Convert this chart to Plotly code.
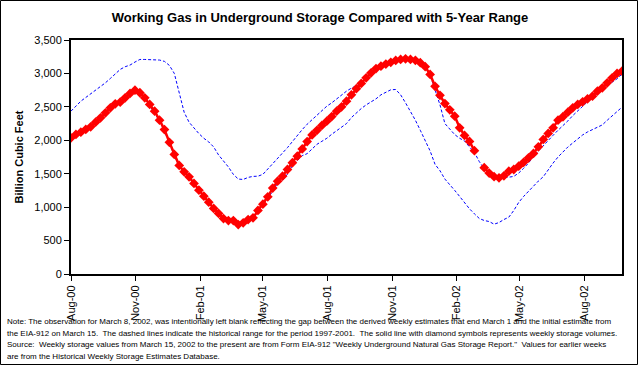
import plotly.graph_objects as go
import pandas as pd

# Weekly report dates (Fridays) from 4 Aug 2000 to 27 Sep 2002
week_dates = pd.date_range("2000-08-04", periods=114, freq="7D")

# Weekly working gas in storage (Bcf); 8 Mar 2002 intentionally blank
storage = [2037, 2087, 2122, 2162, 2202, 2271, 2336, 2411, 2486, 2546,
           2570, 2636, 2700, 2750, 2711, 2636, 2536, 2436, 2301, 2160,
           1970, 1788, 1623, 1529, 1454, 1354, 1254, 1164, 1074, 980,
           905, 830, 800, 800, 740, 766, 815, 840, 950, 1045,
           1155, 1285, 1389, 1463, 1563, 1664, 1762, 1870, 1980, 2080,
           2150, 2222, 2286, 2355, 2436, 2500, 2585, 2680, 2772, 2850,
           2935, 3010, 3072, 3109, 3140, 3167, 3194, 3209, 3219, 3209,
           3197, 3160, 3100, 2985, 2808, 2672, 2550, 2455, 2361, 2187,
           2072, 1982, 1845, None, 1590, 1509, 1455, 1439, 1468, 1538,
           1563, 1613, 1670, 1738, 1803, 1903, 2012, 2102, 2187, 2301,
           2352, 2421, 2486, 2536, 2576, 2621, 2660, 2735, 2785, 2860,
           2935, 3000, 3034, 3085]

# 5-year (1997-2001) maximum
range_max = [2436, 2510, 2585, 2640, 2695, 2745, 2795, 2860, 2925, 2990,
             3060, 3100, 3125, 3170, 3209, 3209, 3209, 3205, 3200, 3180,
             3120, 3000, 2720, 2420, 2270, 2180, 2100, 2030, 1975, 1900,
             1780, 1690, 1600, 1490, 1420, 1414, 1445, 1460, 1463, 1490,
             1570, 1640, 1715, 1800, 1890, 1980, 2075, 2160, 2240, 2310,
             2380, 2450, 2510, 2560, 2620, 2680, 2735, 2780, 2810, 2850,
             2935, 3010, 3072, 3109, 3140, 3170, 3198, 3212, 3222, 3212,
             3200, 3165, 3110, 2980, 2750, 2530, 2250, 2160, 2085, 2030,
             1990, 1900, 1820, 1680, 1570, 1470, 1435, 1425, 1448, 1448,
             1460, 1510, 1580, 1660, 1760, 1840, 1930, 2000, 2075, 2150,
             2215, 2290, 2370, 2440, 2520, 2585, 2645, 2700, 2760, 2815,
             2870, 2920, 2990, 3040]

# 5-year (1997-2001) minimum
range_min = [2037, 2087, 2122, 2162, 2202, 2271, 2336, 2411, 2486, 2546,
             2570, 2636, 2700, 2750, 2711, 2630, 2520, 2420, 2290, 2140,
             1950, 1770, 1610, 1520, 1440, 1345, 1245, 1155, 1065, 975,
             900, 825, 795, 795, 740, 760, 810, 835, 940, 1035,
             1140, 1235, 1360, 1400, 1495, 1620, 1700, 1770, 1800, 1870,
             1940, 1985, 2030, 2090, 2140, 2200, 2250, 2340, 2410, 2475,
             2530, 2575, 2620, 2680, 2715, 2755, 2760, 2680, 2560, 2440,
             2300, 2150, 2000, 1840, 1640, 1545, 1420, 1340, 1250, 1160,
             1065, 975, 900, 830, 800, 785, 745, 770, 815, 850,
             950, 1070, 1160, 1240, 1314, 1390, 1455, 1560, 1660, 1750,
             1830, 1900, 1960, 2020, 2080, 2125, 2160, 2195, 2230, 2300,
             2370, 2430, 2495, 2530]

tick_dates = ["2000-08-04", "2000-11-04", "2001-02-04", "2001-05-04", "2001-08-04",
              "2001-11-04", "2002-02-04", "2002-05-04", "2002-08-04"]
tick_labels = ["Aug-00", "Nov-00", "Feb-01", "May-01", "Aug-01",
               "Nov-01", "Feb-02", "May-02", "Aug-02"]
y_ticks = [0, 500, 1000, 1500, 2000, 2500, 3000, 3500]

note_lines = [
    "Note: The observation for March 8, 2002, was intentionally left blank reflecting the gap between the derived weekly estimates that end March 1 and the initial estimate from",
    "the EIA-912 on March 15.  The dashed lines indicate the historical range for the period 1997-2001.  The solid line with diamond symbols represents weekly storage volumes.",
    "Source:  Weekly storage values from March 15, 2002 to the present are from Form EIA-912 \"Weekly Underground Natural Gas Storage Report.\"  Values for earlier weeks",
    "are from the Historical Weekly Storage Estimates Database.",
]

FONT = "Arial, Liberation Sans, sans-serif"
W, H = 638, 365
ML, MR, MT, MB = 71, 16, 40, 91
PW, PH = W - ML - MR, H - MT - MB

fig = go.Figure()
dash = dict(color="#0000FF", width=1, dash="3px,2px")
fig.add_trace(go.Scatter(x=week_dates, y=range_max, mode="lines", line=dash,
                         hoverinfo="skip", showlegend=False))
fig.add_trace(go.Scatter(x=week_dates, y=range_min, mode="lines", line=dash,
                         hoverinfo="skip", showlegend=False))
fig.add_trace(go.Scatter(x=week_dates, y=storage, mode="lines+markers",
                         connectgaps=False,
                         line=dict(color="#FF0000", width=2.5),
                         marker=dict(symbol="diamond", size=7.5, color="#FF0000",
                                     line=dict(width=0)),
                         showlegend=False))

annotations = []
for k, line in enumerate(note_lines):
    annotations.append(dict(
        text=line, xref="paper", yref="paper",
        x=(5 - ML) / PW, y=(MT + PH - (315 + 11.7 * k)) / PH,
        xanchor="left", yanchor="top", showarrow=False, align="left",
        font=dict(family=FONT, size=8, color="black")))

fig.update_layout(
    width=W, height=H,
    margin=dict(l=ML, r=MR, t=MT, b=MB, pad=0, autoexpand=False),
    paper_bgcolor="white", plot_bgcolor="white",
    title=dict(text="<b>Working Gas in Underground Storage Compared with 5-Year Range</b>",
               x=(320 - ML) / PW, xref="paper", xanchor="center",
               y=1 - 17 / H, yanchor="middle",
               font=dict(family=FONT, size=13, color="black")),
    font=dict(family=FONT, size=11, color="black"),
    annotations=annotations,
    shapes=[dict(type="rect", xref="paper", yref="paper",
                 x0=(0.5 - ML) / PW, x1=(W - 0.5 - ML) / PW,
                 y0=(MT + PH - (H - 0.5)) / PH, y1=(MT + PH - 0.5) / PH,
                 line=dict(color="black", width=1), layer="above")],
)
fig.update_xaxes(
    type="date", range=["2000-08-04", "2002-09-27"], automargin=False,
    tickvals=tick_dates, ticktext=tick_labels, tickangle=-90,
    ticks="outside", ticklen=5, tickwidth=1, tickcolor="black",
    showline=True, linewidth=2, linecolor="black", mirror=True,
    showgrid=False, zeroline=False,
    tickfont=dict(family=FONT, size=11, color="black"),
)
fig.update_yaxes(
    range=[0, 3500], tickvals=y_ticks, tickformat=",", automargin=False,
    ticks="outside", ticklen=5, tickwidth=1, tickcolor="black",
    showline=True, linewidth=2, linecolor="black", mirror=True,
    showgrid=False, zeroline=False,
    tickfont=dict(family=FONT, size=11, color="black"),
    title=dict(text="<b>Billion Cubic Feet</b>", standoff=8,
               font=dict(family=FONT, size=11, color="black")),
)

fig.write_html("out.html", config={"displayModeBar": False},
               post_script="document.body.style.margin='0';"
                           "document.body.style.overflow='hidden';")
